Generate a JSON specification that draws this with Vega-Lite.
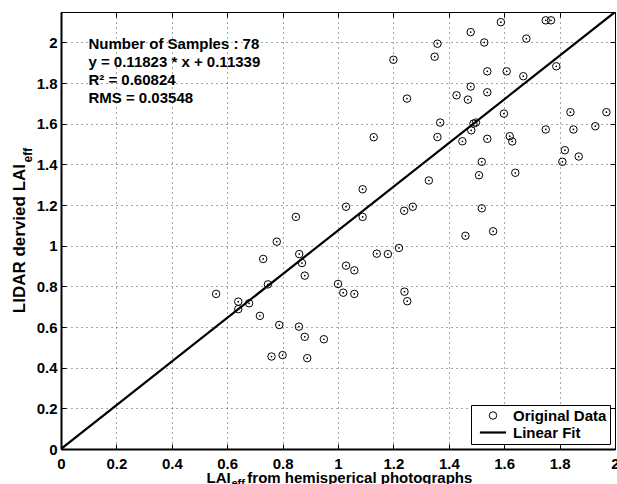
{
  "$schema": "https://vega.github.io/schema/vega-lite/v6.json",
  "width": 554,
  "height": 437,
  "autosize": {"type": "none"},
  "padding": {"left": 61, "top": 12, "right": 2, "bottom": 35},
  "background": "white",
  "config": {
    "font": "Liberation Sans",
    "view": {"stroke": "black", "strokeWidth": 1},
    "axis": {
      "labelFont": "Liberation Sans",
      "labelFontSize": 15,
      "labelFontWeight": "bold",
      "labelColor": "black",
      "titleFont": "Liberation Sans",
      "titleFontSize": 15,
      "titleFontWeight": "bold",
      "titleColor": "black",
      "tickColor": "black",
      "tickSize": -5,
      "tickWidth": 1,
      "domainColor": "black",
      "gridColor": "black",
      "gridDash": [1, 4],
      "gridWidth": 1,
      "gridOpacity": 0.7
    }
  },
  "datasets": {
    "points": [
      {"x": 0.56, "y": 0.763, "series": "Original Data"},
      {"x": 0.64, "y": 0.725, "series": "Original Data"},
      {"x": 0.64, "y": 0.688, "series": "Original Data"},
      {"x": 0.679, "y": 0.717, "series": "Original Data"},
      {"x": 0.747, "y": 0.81, "series": "Original Data"},
      {"x": 0.73, "y": 0.935, "series": "Original Data"},
      {"x": 0.779, "y": 1.02, "series": "Original Data"},
      {"x": 0.718, "y": 0.655, "series": "Original Data"},
      {"x": 0.86, "y": 0.959, "series": "Original Data"},
      {"x": 0.87, "y": 0.915, "series": "Original Data"},
      {"x": 0.88, "y": 0.853, "series": "Original Data"},
      {"x": 0.788, "y": 0.61, "series": "Original Data"},
      {"x": 0.859, "y": 0.602, "series": "Original Data"},
      {"x": 0.88, "y": 0.552, "series": "Original Data"},
      {"x": 0.949, "y": 0.54, "series": "Original Data"},
      {"x": 0.76, "y": 0.455, "series": "Original Data"},
      {"x": 0.8, "y": 0.462, "series": "Original Data"},
      {"x": 0.889, "y": 0.447, "series": "Original Data"},
      {"x": 1.0, "y": 0.812, "series": "Original Data"},
      {"x": 1.029, "y": 0.902, "series": "Original Data"},
      {"x": 1.059, "y": 0.879, "series": "Original Data"},
      {"x": 1.019, "y": 0.769, "series": "Original Data"},
      {"x": 1.059, "y": 0.763, "series": "Original Data"},
      {"x": 1.14, "y": 0.961, "series": "Original Data"},
      {"x": 1.18, "y": 0.959, "series": "Original Data"},
      {"x": 1.22, "y": 0.989, "series": "Original Data"},
      {"x": 1.24, "y": 0.774, "series": "Original Data"},
      {"x": 1.25, "y": 0.727, "series": "Original Data"},
      {"x": 1.46, "y": 1.049, "series": "Original Data"},
      {"x": 1.56, "y": 1.071, "series": "Original Data"},
      {"x": 0.848, "y": 1.142, "series": "Original Data"},
      {"x": 1.029, "y": 1.192, "series": "Original Data"},
      {"x": 1.089, "y": 1.278, "series": "Original Data"},
      {"x": 1.089, "y": 1.142, "series": "Original Data"},
      {"x": 1.129, "y": 1.534, "series": "Original Data"},
      {"x": 1.2, "y": 1.915, "series": "Original Data"},
      {"x": 1.249, "y": 1.724, "series": "Original Data"},
      {"x": 1.239, "y": 1.172, "series": "Original Data"},
      {"x": 1.27, "y": 1.192, "series": "Original Data"},
      {"x": 1.328, "y": 1.321, "series": "Original Data"},
      {"x": 1.349, "y": 1.93, "series": "Original Data"},
      {"x": 1.359, "y": 1.994, "series": "Original Data"},
      {"x": 1.359, "y": 1.535, "series": "Original Data"},
      {"x": 1.369, "y": 1.606, "series": "Original Data"},
      {"x": 1.428, "y": 1.74, "series": "Original Data"},
      {"x": 1.449, "y": 1.514, "series": "Original Data"},
      {"x": 1.469, "y": 1.719, "series": "Original Data"},
      {"x": 1.479, "y": 1.783, "series": "Original Data"},
      {"x": 1.479, "y": 2.051, "series": "Original Data"},
      {"x": 1.481, "y": 1.568, "series": "Original Data"},
      {"x": 1.489, "y": 1.601, "series": "Original Data"},
      {"x": 1.498, "y": 1.606, "series": "Original Data"},
      {"x": 1.528, "y": 2.0, "series": "Original Data"},
      {"x": 1.539, "y": 1.858, "series": "Original Data"},
      {"x": 1.539, "y": 1.755, "series": "Original Data"},
      {"x": 1.539, "y": 1.526, "series": "Original Data"},
      {"x": 1.519, "y": 1.413, "series": "Original Data"},
      {"x": 1.509, "y": 1.347, "series": "Original Data"},
      {"x": 1.519, "y": 1.184, "series": "Original Data"},
      {"x": 1.588, "y": 2.1, "series": "Original Data"},
      {"x": 1.599, "y": 1.65, "series": "Original Data"},
      {"x": 1.609, "y": 1.858, "series": "Original Data"},
      {"x": 1.62, "y": 1.539, "series": "Original Data"},
      {"x": 1.629, "y": 1.513, "series": "Original Data"},
      {"x": 1.64, "y": 1.359, "series": "Original Data"},
      {"x": 1.669, "y": 1.834, "series": "Original Data"},
      {"x": 1.68, "y": 2.019, "series": "Original Data"},
      {"x": 1.75, "y": 2.109, "series": "Original Data"},
      {"x": 1.769, "y": 2.109, "series": "Original Data"},
      {"x": 1.75, "y": 1.572, "series": "Original Data"},
      {"x": 1.788, "y": 1.883, "series": "Original Data"},
      {"x": 1.81, "y": 1.413, "series": "Original Data"},
      {"x": 1.819, "y": 1.47, "series": "Original Data"},
      {"x": 1.839, "y": 1.657, "series": "Original Data"},
      {"x": 1.85, "y": 1.572, "series": "Original Data"},
      {"x": 1.869, "y": 1.439, "series": "Original Data"},
      {"x": 1.929, "y": 1.588, "series": "Original Data"},
      {"x": 1.969, "y": 1.657, "series": "Original Data"}
    ],
    "fit": [
      {"x": 0, "y": 0},
      {"x": 2, "y": 2.15}
    ],
    "notes": [
      {"label": "Number of Samples : 78\ny = 0.11823 * x + 0.11339\nR² = 0.60824\nRMS = 0.03548"}
    ]
  },
  "resolve": {"axis": {"x": "independent", "y": "independent"}},
  "layer": [
    {
      "data": {"name": "fit"},
      "mark": {"type": "line", "color": "black", "strokeWidth": 2.2, "clip": true},
      "encoding": {
        "x": {
          "field": "x", "type": "quantitative",
          "scale": {"domain": [0, 2], "nice": false, "zero": false},
          "axis": {
            "orient": "bottom",
            "values": [0, 0.2, 0.4, 0.6, 0.8, 1, 1.2, 1.4, 1.6, 1.8, 2],
            "format": "~g",
            "grid": true,
            "domainWidth": 2,
            "labelPadding": 12,
            "labelFlush": false,
            "title": "LAI\u00a0\u00a0\u00a0 from hemisperical photographs",
            "titleAlign": "left",
            "titleAnchor": "start",
            "titleBaseline": "alphabetic",
            "titleX": 145,
            "titleY": 33.5
          }
        },
        "y": {
          "field": "y", "type": "quantitative",
          "scale": {"domain": [0, 2.15], "nice": false, "zero": false},
          "axis": {
            "orient": "left",
            "values": [0, 0.2, 0.4, 0.6, 0.8, 1, 1.2, 1.4, 1.6, 1.8, 2],
            "format": "~g",
            "grid": true,
            "domainWidth": 2,
            "labelPadding": 9,
            "labelFlush": false,
            "title": "LIDAR dervied LAI",
            "titleFontSize": 17,
            "titleAngle": -90,
            "titleAlign": "left",
            "titleBaseline": "alphabetic",
            "titleX": -36.5,
            "titleY": 300.7
          }
        }
      }
    },
    {
      "data": {"name": "points"},
      "mark": {"type": "point", "filled": false, "stroke": "black", "opacity": 1, "size": 56},
      "encoding": {
        "x": {
          "field": "x", "type": "quantitative",
          "axis": {
            "orient": "top",
            "values": [0, 0.2, 0.4, 0.6, 0.8, 1, 1.2, 1.4, 1.6, 1.8, 2],
            "labels": false,
            "grid": false,
            "domainWidth": 1,
            "title": "eff",
            "titleFontSize": 11,
            "titleAngle": 0,
            "titleAlign": "left",
            "titleBaseline": "alphabetic",
            "titleX": 170,
            "titleY": 474
          }
        },
        "y": {
          "field": "y", "type": "quantitative",
          "axis": {
            "orient": "right",
            "values": [0, 0.2, 0.4, 0.6, 0.8, 1, 1.2, 1.4, 1.6, 1.8, 2],
            "labels": false,
            "grid": false,
            "domainWidth": 1,
            "title": "eff",
            "titleFontSize": 12,
            "titleAngle": -90,
            "titleAlign": "left",
            "titleBaseline": "alphabetic",
            "titleX": -583.3,
            "titleY": 150
          }
        },
        "shape": {
          "field": "series", "type": "nominal",
          "scale": {"domain": ["Original Data", "Linear Fit"], "range": ["circle", "M-3.5,0L3.5,0"]},
          "legend": {
            "title": null,
            "orient": "bottom-right",
            "offset": 5,
            "strokeColor": "black",
            "fillColor": "white",
            "padding": 3,
            "rowPadding": 1,
            "symbolSize": 56,
            "symbolOffset": 11.5,
            "symbolStrokeColor": "black",
            "symbolFillColor": "transparent",
            "labelOffset": 12.5,
            "labelExpr": "datum.label + '\u00a0'",
            "labelFont": "Liberation Sans",
            "labelFontSize": 15,
            "labelFontWeight": "bold",
            "labelColor": "black"
          }
        },
        "strokeWidth": {
          "field": "series", "type": "nominal",
          "scale": {"domain": ["Original Data", "Linear Fit"], "range": [1, 2.2]},
          "legend": {
            "title": null,
            "orient": "bottom-right",
            "offset": 5,
            "strokeColor": "black",
            "fillColor": "white",
            "padding": 3,
            "rowPadding": 1,
            "symbolSize": 56,
            "symbolOffset": 11.5,
            "symbolStrokeColor": "black",
            "symbolFillColor": "transparent",
            "labelOffset": 12.5,
            "labelExpr": "datum.label + '\u00a0'",
            "labelFont": "Liberation Sans",
            "labelFontSize": 15,
            "labelFontWeight": "bold",
            "labelColor": "black"
          }
        }
      }
    },
    {
      "data": {"name": "points"},
      "mark": {"type": "point", "filled": true, "color": "black", "opacity": 1, "size": 3, "shape": "circle"},
      "encoding": {
        "x": {"field": "x", "type": "quantitative", "axis": null},
        "y": {"field": "y", "type": "quantitative", "axis": null}
      }
    },
    {
      "data": {"name": "notes"},
      "mark": {
        "type": "text", "align": "left", "baseline": "alphabetic",
        "font": "Liberation Sans", "fontSize": 15, "fontWeight": "bold",
        "color": "black", "lineBreak": "\n", "lineHeight": 18.3
      },
      "encoding": {
        "x": {"datum": 0.099, "type": "quantitative", "axis": null},
        "y": {"datum": 1.97, "type": "quantitative", "axis": null},
        "text": {"field": "label"}
      }
    }
  ]
}
